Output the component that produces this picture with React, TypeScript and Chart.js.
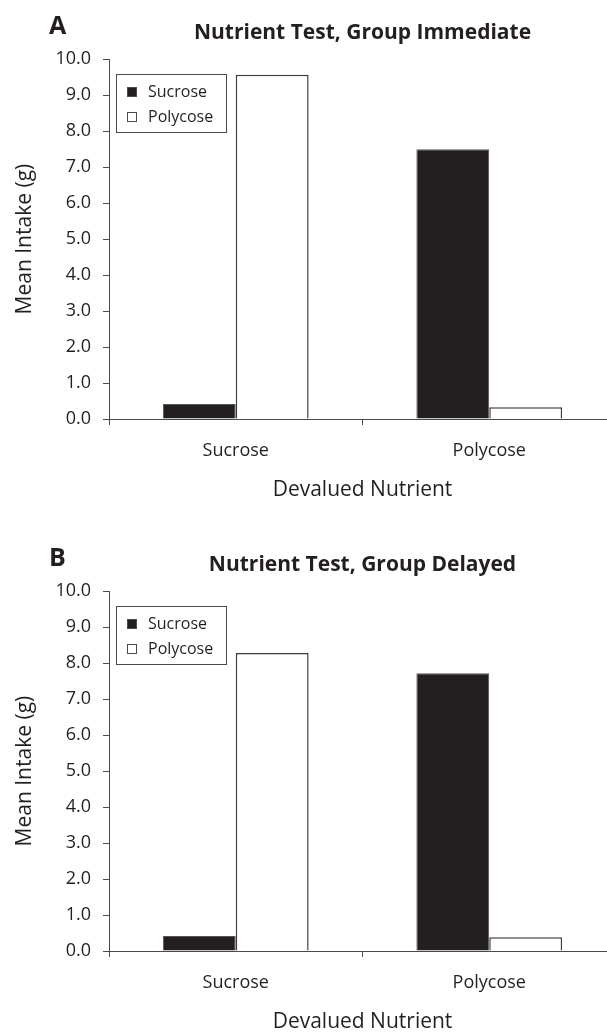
import React, { useEffect, useRef } from "react";
import { Chart, registerables } from "chart.js";

Chart.register(...registerables);

// ---------- data ----------
const categories = ["Sucrose", "Polycose"];
const seriesNames = ["Sucrose", "Polycose"];
const immediateSucrose = [0.42, 7.5];
const immediatePolycose = [9.57, 0.33];
const delayedSucrose = [0.42, 7.72];
const delayedPolycose = [8.28, 0.38];
const yMin = 0;
const yMax = 10;
const yStep = 1;
const xAxisTitle = "Devalued Nutrient";
const yAxisTitle = "Mean Intake (g)";
const panelLetters = ["A", "B"];
const panelTitles = ["Nutrient Test, Group Immediate", "Nutrient Test, Group Delayed"];

// ---------- style ----------
const FONT = "'Open Sans', 'Noto Sans', sans-serif";
const INK = "#231f20";
const LINE = "#4a4a4a";
const CANVAS_W = 630;
const CANVAS_H = 518;

const panelPlugin = {
  id: "panelDecor",
  afterDatasetsDraw(chart: any, _args: any, opts: any) {
    const { ctx, chartArea } = chart;
    ctx.save();
    // legend box
    const x0 = Math.round(chartArea.left + 7);
    const y0 = Math.round(chartArea.top + 15);
    const w = 110;
    const h = 58;
    ctx.fillStyle = "#ffffff";
    ctx.fillRect(x0, y0, w, h);
    ctx.strokeStyle = LINE;
    ctx.lineWidth = 1;
    ctx.strokeRect(x0 + 0.5, y0 + 0.5, w, h);
    chart.data.datasets.forEach((ds: any, i: number) => {
      const cy = y0 + 18 + i * 25;
      ctx.fillStyle = ds.backgroundColor;
      ctx.fillRect(x0 + 11, cy - 5, 10, 10);
      ctx.strokeStyle = LINE;
      ctx.lineWidth = 1;
      ctx.strokeRect(x0 + 11.5, cy - 4.5, 9, 9);
      ctx.fillStyle = INK;
      ctx.font = `16px ${FONT}`;
      ctx.textBaseline = "middle";
      ctx.textAlign = "left";
      ctx.fillText(ds.label, x0 + 32, cy);
    });
    // panel letter
    ctx.fillStyle = INK;
    ctx.font = `bold 25px ${FONT}`;
    ctx.textBaseline = "alphabetic";
    ctx.textAlign = "left";
    ctx.fillText(opts.letter, 49, 34);
    ctx.restore();
  },
};

function makeConfig(letter: string, title: string, sucrose: number[], polycose: number[]) {
  return {
    type: "bar" as const,
    data: {
      labels: categories,
      datasets: [
        {
          label: seriesNames[0],
          data: sucrose,
          backgroundColor: "#231f20",
          borderColor: "#555555",
          borderWidth: 1,
        },
        {
          label: seriesNames[1],
          data: polycose,
          backgroundColor: "#ffffff",
          borderColor: "#3c3c3c",
          borderWidth: 1.5,
        },
      ],
    },
    options: {
      animation: false,
      responsive: false,
      maintainAspectRatio: false,
      devicePixelRatio: 1,
      events: [],
      layout: { padding: { left: 0, right: CANVAS_W - 616, top: 0, bottom: 0 } },
      datasets: { bar: { categoryPercentage: 0.575, barPercentage: 1 } },
      plugins: {
        legend: { display: false },
        tooltip: { enabled: false },
        title: {
          display: true,
          text: title,
          fullSize: false,
          color: INK,
          font: { family: FONT, size: 21, weight: "bold" as const, lineHeight: 1.2 },
          padding: { top: 20, bottom: 14 },
        },
        panelDecor: { letter },
      },
      scales: {
        x: {
          grid: {
            display: true,
            drawOnChartArea: false,
            drawTicks: true,
            tickLength: 6,
            color: LINE,
            offset: true,
          },
          border: { display: true, color: LINE, width: 1 },
          ticks: { color: INK, font: { family: FONT, size: 18 }, padding: 15 },
          title: {
            display: true,
            text: xAxisTitle,
            color: INK,
            font: { family: FONT, size: 21, lineHeight: 1.2 },
            padding: { top: 0, bottom: 15 },
          },
          afterFit: (s: any) => {
            s.height = 99;
          },
        },
        y: {
          min: yMin,
          max: yMax,
          ticks: {
            stepSize: yStep,
            color: INK,
            font: { family: FONT, size: 18 },
            padding: 12,
            callback: (v: any) => Number(v).toFixed(1),
          },
          grid: {
            display: true,
            drawOnChartArea: false,
            drawTicks: true,
            tickLength: 6,
            color: LINE,
          },
          border: { display: true, color: LINE, width: 1 },
          title: {
            display: true,
            text: yAxisTitle,
            color: INK,
            font: { family: FONT, size: 21, lineHeight: 1.2 },
            padding: { top: 12, bottom: 0 },
          },
          afterFit: (s: any) => {
            s.width = 109;
          },
        },
      },
    },
    plugins: [panelPlugin],
  };
}

function Panel({ idx, top, sucrose, polycose }: { idx: number; top: number; sucrose: number[]; polycose: number[] }) {
  const ref = useRef<HTMLCanvasElement | null>(null);
  useEffect(() => {
    if (!ref.current) return;
    const chart = new Chart(ref.current, makeConfig(panelLetters[idx], panelTitles[idx], sucrose, polycose) as any);
    return () => chart.destroy();
  }, [idx, sucrose, polycose]);
  return (
    <canvas
      ref={ref}
      width={CANVAS_W}
      height={CANVAS_H}
      style={{ position: "absolute", left: 0, top, width: CANVAS_W, height: CANVAS_H }}
    />
  );
}

export default function App() {
  return (
    <div
      style={{
        position: "fixed",
        left: 0,
        top: 0,
        width: 607,
        height: 1036,
        overflow: "hidden",
        background: "#ffffff",
      }}
    >
      <Panel idx={0} top={0} sucrose={immediateSucrose} polycose={immediatePolycose} />
      <Panel idx={1} top={532} sucrose={delayedSucrose} polycose={delayedPolycose} />
    </div>
  );
}
